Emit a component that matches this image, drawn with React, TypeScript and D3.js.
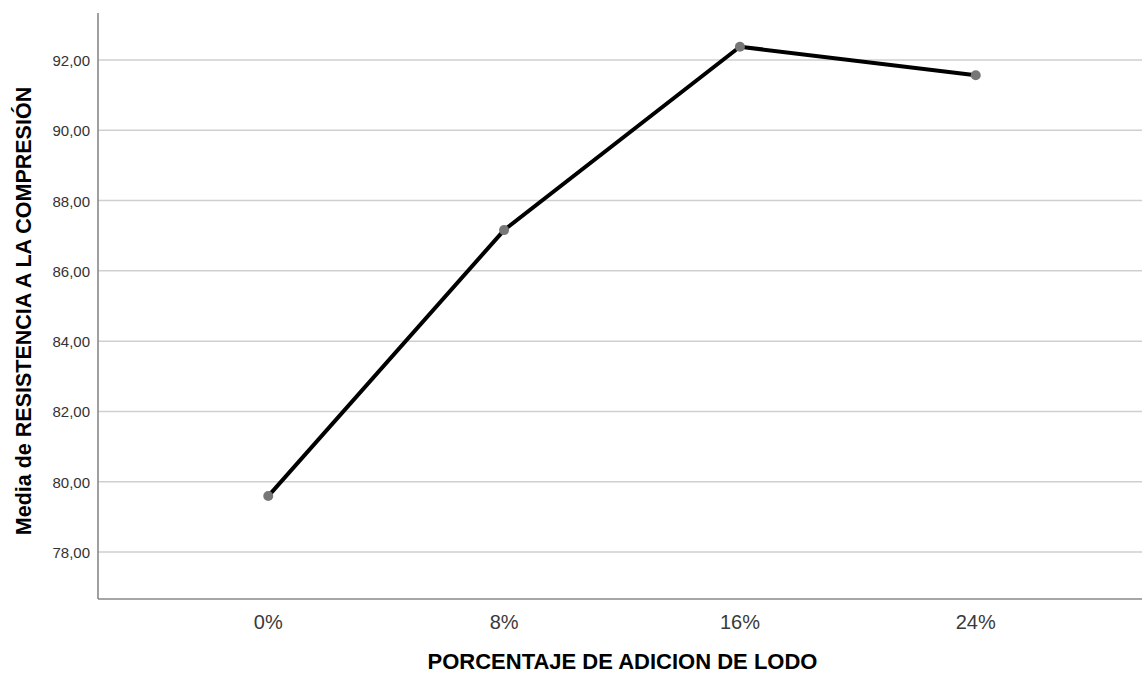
import React from "react";
import * as d3 from "d3";

const categories = ["0%", "8%", "16%", "24%"];
const means = [79.59, 87.16, 92.38, 91.57];
const yTicks = [78, 80, 82, 84, 86, 88, 90, 92];
const xTitle = "PORCENTAJE DE ADICION DE LODO";
const yTitle = "Media de RESISTENCIA A LA COMPRESIÓN";

const W = 1142;
const H = 676;
const left = 98;
const top = 13;
const bottom = 599;

export default function App() {
  const x = d3.scalePoint<string>().domain(categories).range([left, 1146]).padding(0.722);
  const y = d3.scaleLinear().domain([76.66, 93.34]).range([bottom, top]);
  const line = d3
    .line<number>()
    .x((_, i) => x(categories[i]) as number)
    .y((d) => y(d));
  const fmt = (v: number) => v.toFixed(2).replace(".", ",");
  const font = "Arial, 'Liberation Sans', Helvetica, sans-serif";
  return (
    <svg
      width={W}
      height={H}
      style={{ position: "absolute", left: 0, top: 0, background: "#fff" }}
      fontFamily={font}
    >
      <rect x={0} y={0} width={W} height={H} fill="#fff" />
      {yTicks.map((t) => (
        <g key={t}>
          <line x1={left} x2={W} y1={y(t)} y2={y(t)} stroke="#cfcfcf" strokeWidth={1.5} />
          <text x={90} y={y(t)} dy="0.4em" textAnchor="end" fontSize={15} fill="#333">
            {fmt(t)}
          </text>
        </g>
      ))}
      <line x1={left} x2={left} y1={top} y2={bottom} stroke="#888" strokeWidth={1.6} />
      <line x1={left} x2={W} y1={bottom} y2={bottom} stroke="#888" strokeWidth={1.6} />
      {categories.map((c) => (
        <text key={c} x={x(c)} y={629} textAnchor="middle" fontSize={20} fill="#3a3a3a">
          {c}
        </text>
      ))}
      <path d={line(means) || ""} fill="none" stroke="#000" strokeWidth={4} strokeLinejoin="round" />
      {means.map((m, i) => (
        <circle key={i} cx={x(categories[i])} cy={y(m)} r={5} fill="#777" />
      ))}
      <text x={622.5} y={669} textAnchor="middle" fontSize={22} fontWeight="bold" fill="#000">
        {xTitle}
      </text>
      <text
        transform={`translate(31, 311) rotate(-90)`}
        textAnchor="middle"
        fontSize={21.5}
        fontWeight="bold"
        fill="#000"
      >
        {yTitle}
      </text>
    </svg>
  );
}
